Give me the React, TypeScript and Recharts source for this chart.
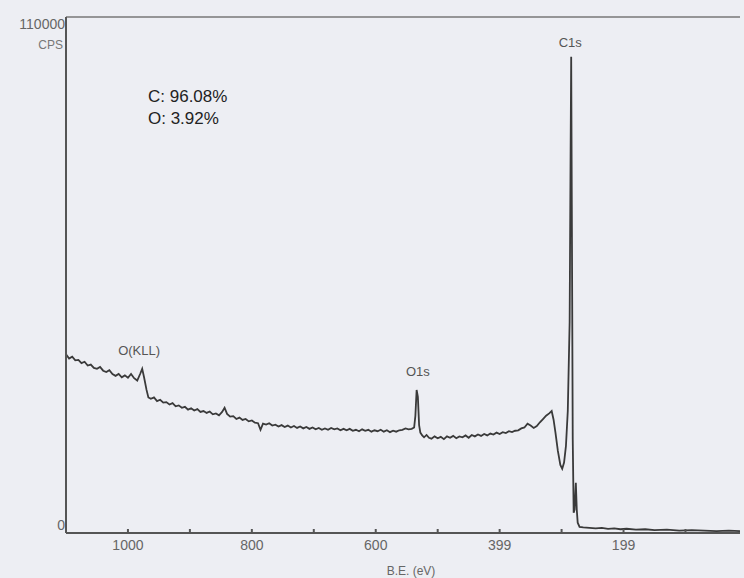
import { LineChart, Line, XAxis, YAxis, ReferenceDot, ReferenceLine } from "recharts";

// survey spectrum (eV, counts per second)
const bindingEnergy = [
  1100, 1095, 1090, 1085, 1080, 1075, 1070, 1065, 1060, 1055, 1050, 1045, 1040, 1035, 1030, 1025,
  1020, 1015, 1010, 1005, 1000, 995, 990, 985, 980, 977, 974, 970, 967, 963, 958, 953,
  948, 943, 938, 933, 928, 923, 918, 913, 908, 903, 898, 893, 888, 883, 878, 873,
  868, 863, 858, 853, 848, 844, 840, 835, 830, 825, 820, 815, 810, 805, 800, 795,
  790, 786, 782, 777, 772, 767, 762, 757, 752, 747, 742, 737, 732, 727, 722, 717,
  712, 707, 702, 697, 692, 687, 682, 677, 672, 667, 662, 657, 652, 647, 642, 637,
  632, 627, 622, 617, 612, 607, 602, 597, 592, 587, 582, 577, 572, 567, 562, 557,
  552, 547, 542, 538, 536, 534, 532, 530, 528, 525, 522, 518, 514, 510, 505, 500,
  495, 490, 485, 480, 475, 470, 465, 460, 455, 450, 445, 440, 435, 430, 425, 420,
  415, 410, 405, 400, 395, 390, 385, 380, 375, 370, 365, 360, 355, 350, 345, 340,
  335, 330, 325, 320, 316, 313, 310, 306, 302, 299, 296, 293, 290, 287, 285.5, 284.5,
  283.5, 282, 280.5, 279, 277, 275.5, 274, 271, 265, 255, 245, 235, 225, 215, 205, 195,
  180, 165, 150, 130, 110, 90, 70, 50, 30, 12,
];

const cps = [
  38100, 37200, 37600, 36800, 36900, 36200, 36500, 35700, 35900, 35200, 35000, 35400, 34600, 34300, 34700, 33900,
  33500, 33900, 33200, 33600, 33100, 33900, 33000, 32500, 34000, 35000, 33200, 30500, 28900, 28600, 28900, 28100,
  28400, 27800, 27900, 27400, 27700, 27000, 27200, 26700, 26900, 26300, 26600, 26100, 26400, 25800, 26000, 25600,
  25900, 25300, 25500, 25100, 25800, 26700, 25400, 24800, 24900, 24300, 24600, 24100, 24300, 23800, 24000, 23500,
  23400, 22000, 23300, 23100, 23400, 22900, 23100, 22700, 23000, 22600, 22900, 22500, 22800, 22400, 22700, 22300,
  22600, 22200, 22500, 22100, 22400, 22000, 22300, 22000, 22400, 22100, 22300, 21900, 22200, 21900, 22200, 21800,
  22000, 21700, 22100, 21800, 22000, 21600, 21900, 21700, 22000, 21600, 21900, 21500, 21800, 21600, 21900, 22000,
  22300, 22100, 22200, 22500, 25000, 30500, 29000, 23000, 21400, 20800, 20400, 20900, 20300, 20100, 20600, 20200,
  20500, 20000, 20600, 20300, 20700, 20200, 20600, 20400, 20800, 20300, 20900, 20600, 21000, 20700, 21100, 20800,
  21200, 21000, 21400, 21100, 21500, 21300, 21700, 21500, 21800, 21900, 22300, 22500, 23300, 22900, 22400, 22800,
  23600, 24300, 25000, 25500, 26000, 24200, 21500, 17500, 14500, 13700, 15000, 18500, 26000, 45000, 80000, 101500,
  70000, 20000, 4300, 5000, 10700, 5000, 2200, 1300, 1200, 1100, 1000, 1100, 900, 1000, 800, 900,
  700, 800, 600, 700, 500, 600, 500, 400, 500, 400,
];

const xTicks = [1000, 900, 800, 700, 600, 500, 400, 300, 200, 100];
const xTickLabels: Record<number, string> = { 1000: "1000", 800: "800", 600: "600", 400: "399", 200: "199" };
const yTicks = [0, 110000];

const peakNames = ["O(KLL)", "O1s", "C1s"];
const peakEnergy = [982, 532, 286];
const peakLabelCps = [39000, 34500, 104500];

const composition = ["C: 96.08%", "O: 3.92%"];

const data = bindingEnergy.map((be, i) => ({ be, cps: cps[i] }));

const FONT = '"Liberation Sans", Arial, sans-serif';

function XTick({ x, y, payload }: any) {
  const label = xTickLabels[payload.value];
  return (
    <g>
      <line x1={x} y1={y} x2={x} y2={y - 4} stroke="#555" strokeWidth={2} />
      {label && (
        <text x={x} y={y + 17} textAnchor="middle" fontSize={14} fill="#666" fontFamily={FONT}>
          {label}
        </text>
      )}
    </g>
  );
}

function YTick({ x, y, payload }: any) {
  if (payload.value === 0) {
    return (
      <text x={x - 1} y={y - 3} textAnchor="end" fontSize={14} fill="#666" fontFamily={FONT}>
        0
      </text>
    );
  }
  return (
    <g>
      <text x={x - 1} y={y + 12} textAnchor="end" fontSize={14} fill="#666" fontFamily={FONT}>
        110000
      </text>
      <text x={x - 3} y={y + 32} textAnchor="end" fontSize={12} fill="#777" fontFamily={FONT}>
        CPS
      </text>
    </g>
  );
}

export default function App() {
  return (
    <div style={{ position: "absolute", left: 0, top: 0, width: 744, height: 578, background: "#edeef3" }}>
      <LineChart width={744} height={578} data={data} margin={{ top: 17, right: 4, bottom: 0, left: 0 }}>
        <XAxis
          dataKey="be"
          type="number"
          domain={[12, 1100]}
          reversed
          allowDataOverflow
          ticks={xTicks}
          interval={0}
          tickSize={0}
          tickMargin={0}
          tickLine={false}
          tick={<XTick />}
          height={45}
          axisLine={{ stroke: "#555", strokeWidth: 2 }}
          label={{ value: "B.E. (eV)", position: "insideBottom", offset: 3, dx: 8, fontSize: 12, fill: "#666", fontFamily: FONT }}
        />
        <YAxis
          type="number"
          domain={[0, 110000]}
          ticks={yTicks}
          interval={0}
          width={66}
          tickSize={0}
          tickMargin={0}
          tickLine={false}
          tick={<YTick />}
          axisLine={{ stroke: "#555", strokeWidth: 2 }}
        />
        <ReferenceLine y={110000} stroke="#777" strokeWidth={1.5} ifOverflow="visible" />
        <Line
          type="linear"
          dataKey="cps"
          stroke="#3a3a3a"
          strokeWidth={1.8}
          dot={false}
          isAnimationActive={false}
        />
        {peakNames.map((name, i) => (
          <ReferenceDot
            key={name}
            x={peakEnergy[i]}
            y={peakLabelCps[i]}
            r={0}
            ifOverflow="visible"
            label={{ value: name, position: "center", fontSize: 13, fill: "#555", fontFamily: FONT }}
          />
        ))}
      </LineChart>
      <div
        style={{
          position: "absolute",
          left: 148,
          top: 86,
          fontFamily: FONT,
          fontSize: 17,
          lineHeight: "22px",
          color: "#222",
        }}
      >
        {composition.map((c) => (
          <div key={c}>{c}</div>
        ))}
      </div>
    </div>
  );
}
